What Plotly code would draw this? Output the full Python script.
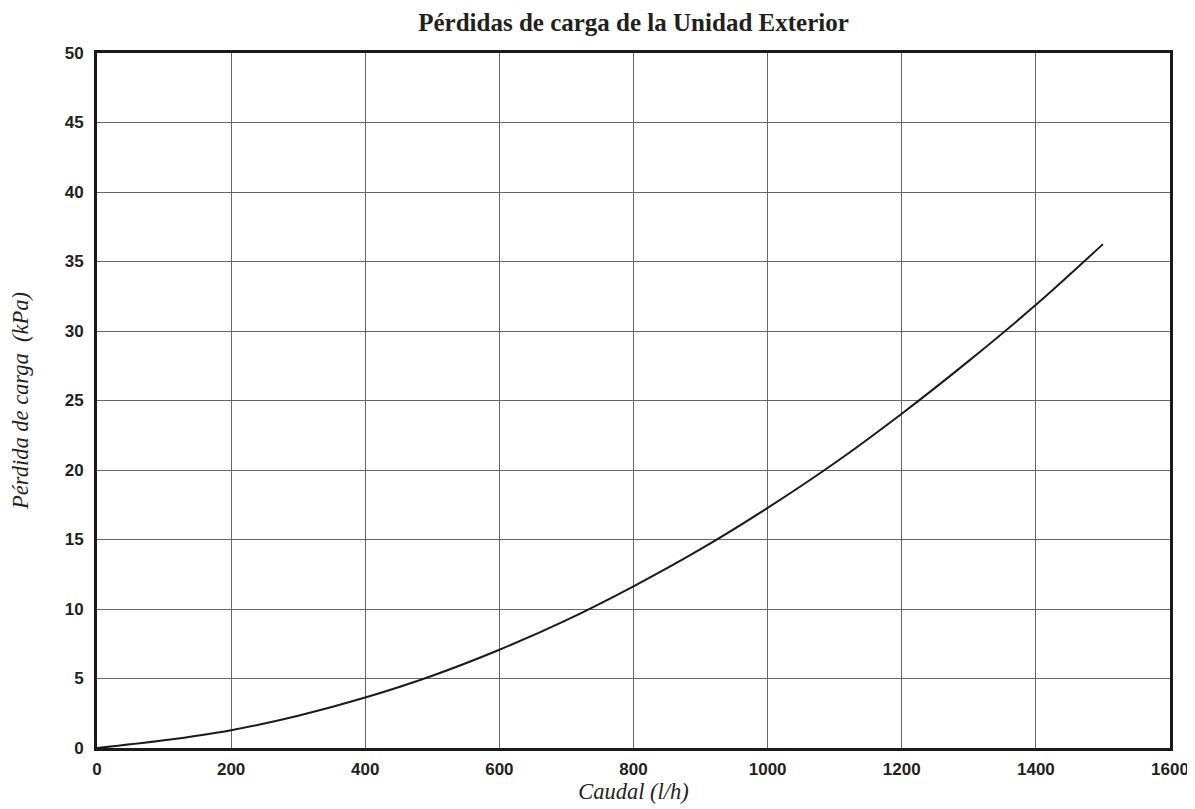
import plotly.graph_objects as go

# Data
caudal = [0, 100, 200, 300, 400, 500, 600, 700, 800, 900, 1000, 1100, 1200, 1300, 1400, 1500]
perdida = [0, 0.55, 1.28, 2.32, 3.63, 5.2, 7.07, 9.2, 11.63, 14.3, 17.27, 20.5, 24.05, 27.85, 31.88, 36.25]

x_ticks = [0, 200, 400, 600, 800, 1000, 1200, 1400, 1600]
y_ticks = [0, 5, 10, 15, 20, 25, 30, 35, 40, 45, 50]

title_text = "Pérdidas de carga de la Unidad Exterior"
x_title = "Caudal (l/h)"
y_title = "Pérdida de carga  (kPa)"

fig = go.Figure()
fig.add_trace(go.Scatter(
    x=caudal, y=perdida, mode="lines",
    line=dict(color="#1a1a1a", width=2, shape="spline", smoothing=1),
    showlegend=False, hoverinfo="x+y",
))

tickfont = dict(family="Liberation Sans, Arial, sans-serif", size=17, color="#231f20", weight="bold")
titlefont = dict(family="Liberation Serif, DejaVu Serif, serif", size=22.5, color="#231f20", style="italic")

W, H = 1187, 801  # page body has an 8px margin
fig.update_layout(
    width=W, height=H,
    margin=dict(l=89, r=25, t=45, b=61, autoexpand=False),
    paper_bgcolor="white", plot_bgcolor="white",
    title=dict(text="<b>" + title_text + "</b>", x=(89 + 1162) / 2 / W, xanchor="center",
               y=1 - 14 / H, yanchor="middle",
               font=dict(family="Liberation Serif, DejaVu Serif, serif", size=25, color="#231f20")),
    xaxis=dict(
        range=[0, 1600], tickvals=x_ticks, ticktext=[str(v) for v in x_ticks],
        showgrid=True, gridcolor="#666666", gridwidth=1,
        showline=True, linecolor="#1a1a1a", linewidth=3, mirror=True,
        zeroline=False, ticks="", tickfont=tickfont, ticklabelstandoff=4,
        automargin=False,
        title=dict(text=x_title, font=titlefont, standoff=2),
    ),
    yaxis=dict(
        range=[0, 50], tickvals=y_ticks, ticktext=[str(v) for v in y_ticks],
        showgrid=True, gridcolor="#666666", gridwidth=1,
        showline=True, linecolor="#1a1a1a", linewidth=3, mirror=True,
        zeroline=False, ticks="", tickfont=tickfont, ticklabelstandoff=7,
        automargin=False,
        title=dict(text=y_title, font=titlefont, standoff=48),
    ),
)

fig.write_html("out.html")
